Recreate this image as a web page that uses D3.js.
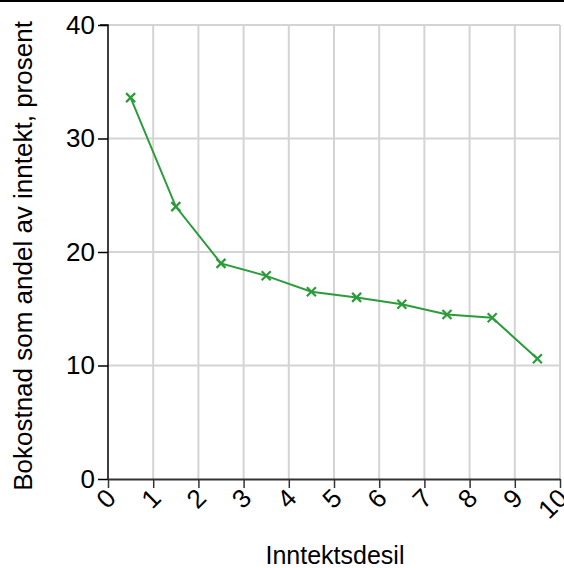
<!DOCTYPE html>
<html><head><meta charset="utf-8">
<script src="https://cdn.jsdelivr.net/npm/d3@7"></script>
<style>body{margin:0;background:#fff;} text{font-family:"Liberation Sans",Arial,sans-serif;}</style>
</head><body>
<svg id="c" width="564" height="568"></svg>
<script>
const deciles = [0.5,1.5,2.5,3.5,4.5,5.5,6.5,7.5,8.5,9.5];
const values = [33.6,24.0,19.0,17.9,16.5,16.0,15.4,14.5,14.2,10.6];
const xTicks = [0,1,2,3,4,5,6,7,8,9,10];
const yTicks = [0,10,20,30,40];
const xLabel = "Inntektsdesil";
const yLabel = "Bokostnad som andel av inntekt, prosent";

const svg = d3.select("#c");
const L=108, R=560, T=25, B=479;
const x = d3.scaleLinear().domain([0,10]).range([L,R]);
const y = d3.scaleLinear().domain([0,40]).range([B,T]);
const FS = 26;

svg.append("line").attr("x1",0).attr("x2",564).attr("y1",1).attr("y2",1).attr("stroke","#000").attr("stroke-width",2);

// grid
svg.append("g").selectAll("line").data(xTicks.filter(d=>d>0)).join("line")
  .attr("x1",d=>x(d)).attr("x2",d=>x(d)).attr("y1",T).attr("y2",B)
  .attr("stroke","#d4d4d4").attr("stroke-width",2);
svg.append("g").selectAll("line").data(yTicks.filter(d=>d>0)).join("line")
  .attr("x1",L).attr("x2",R).attr("y1",d=>y(d)).attr("y2",d=>y(d))
  .attr("stroke","#d4d4d4").attr("stroke-width",2);

// y axis
const ya = svg.append("g").attr("transform",`translate(${L},0)`)
  .call(d3.axisLeft(y).tickValues(yTicks).tickSize(10).tickPadding(3));
ya.select(".domain").attr("stroke","#000").attr("stroke-width",1.5).attr("d",`M-8,${T}H0V${B}`);
ya.selectAll(".tick line").attr("stroke","#000").attr("stroke-width",1.5);
ya.selectAll("text").attr("font-size",FS).attr("fill","#000").attr("font-family","Liberation Sans, Arial, sans-serif");

// x axis
const xa = svg.append("g").attr("transform",`translate(0,${B})`)
  .call(d3.axisBottom(x).tickValues(xTicks).tickSize(9).tickSizeOuter(0));
xa.select(".domain").attr("stroke","#333").attr("stroke-width",2);
xa.selectAll(".tick line").attr("stroke","#333").attr("stroke-width",1.5);
xa.selectAll("text").attr("font-size",FS).attr("fill","#000")
  .attr("font-family","Liberation Sans, Arial, sans-serif")
  .attr("text-anchor","end").attr("dy",null).attr("y",0)
  .attr("transform","translate(4,16) rotate(-45)").attr("dominant-baseline","middle");

// line
const green="#2a9d3a";
svg.append("path").datum(deciles.map((d,i)=>[d,values[i]]))
  .attr("fill","none").attr("stroke",green).attr("stroke-width",2)
  .attr("d",d3.line().x(d=>x(d[0])).y(d=>y(d[1])));
const s=4.5;
svg.append("g").selectAll("path").data(deciles.map((d,i)=>[d,values[i]])).join("path")
  .attr("d",d=>{const cx=x(d[0]),cy=y(d[1]);return `M${cx-s},${cy-s}L${cx+s},${cy+s}M${cx-s},${cy+s}L${cx+s},${cy-s}`;})
  .attr("stroke",green).attr("stroke-width",2.2);

svg.append("text").attr("x",335).attr("y",564).attr("text-anchor","middle")
  .attr("font-size",25).text(xLabel);
svg.append("text").attr("transform",`translate(32,256) rotate(-90)`).attr("text-anchor","middle")
  .attr("font-size",FS).text(yLabel);
</script>
</body></html>
